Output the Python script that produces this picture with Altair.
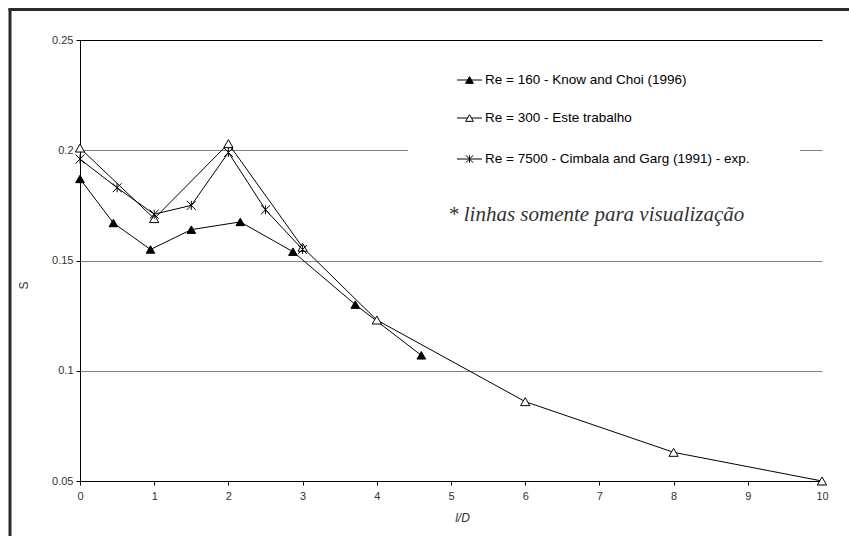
import altair as alt
import pandas as pd

# ---- data ----
x_re160 = [0, 0.45, 0.95, 1.5, 2.16, 2.87, 3.71, 4.6]
s_re160 = [0.187, 0.167, 0.155, 0.164, 0.1675, 0.154, 0.130, 0.107]

x_re300 = [0, 1, 2, 3, 4, 6, 8, 10]
s_re300 = [0.201, 0.169, 0.203, 0.156, 0.123, 0.086, 0.063, 0.050]

x_re7500 = [0, 0.5, 1, 1.5, 2, 2.5, 3]
s_re7500 = [0.196, 0.183, 0.171, 0.175, 0.199, 0.173, 0.155]

legend_labels = [
    "Re = 160 - Know and Choi (1996)",
    "Re = 300 - Este trabalho",
    "Re = 7500 - Cimbala and Garg (1991) - exp.",
]
note_text = "* linhas somente para visualização"
x_ticks = list(range(0, 11))
y_ticks = [0.05, 0.1, 0.15, 0.2, 0.25]

W, H = 742, 441
FONT = "Liberation Sans"
STAR = "M-1,-1L1,1M-1,1L1,-1M0,-1L0,1"

df160 = pd.DataFrame({"x": x_re160, "s": s_re160})
df300 = pd.DataFrame({"x": x_re300, "s": s_re300})
df7500 = pd.DataFrame({"x": x_re7500, "s": s_re7500})

xscale = alt.Scale(domain=[0, 10], nice=False, zero=False)
yscale = alt.Scale(domain=[0.05, 0.25], nice=False, zero=False)

xaxis = alt.Axis(
    values=x_ticks, format="d", grid=False, domainColor="black", tickColor="black",
    tickSize=4, labelFont=FONT, labelFontSize=11, labelColor="#333",
    labelPadding=5, labelFlush=False, labelOverlap=False,
    title="l/D", titleFont=FONT, titleFontSize=12,
    titleFontStyle="italic", titleFontWeight="normal", titleColor="#333",
    titleX=382, titleY=36, titleBaseline="middle",
)
yaxis = alt.Axis(
    values=y_ticks, format="~g", grid=True,
    gridColor={"condition": {"test": "datum.value >= 0.249", "value": "#000"}, "value": "#808080"},
    gridWidth=1, domainColor="black", tickColor="black", tickSize=4,
    labelFont=FONT, labelFontSize=11, labelColor="#333", labelPadding=3,
    labelFlush=False, labelOverlap=False,
    title="S", titleFont=FONT, titleFontSize=12, titleFontWeight="normal",
    titleColor="#333", titleX=-57, titleY=245, titleBaseline="middle",
)

one = alt.Data(values=[{}])

# outer frame (left + top edges)
frame_left = alt.Chart(one).mark_rule(color="#2b2b2b", strokeWidth=3).encode(
    x=alt.value(-70), y=alt.value(-31.5), y2=alt.value(496))
frame_top = alt.Chart(one).mark_rule(color="#2b2b2b", strokeWidth=3).encode(
    x=alt.value(-71.5), x2=alt.value(769), y=alt.value(-30.5))

# legend white box (interrupts gridline as in Excel)
legend_box = alt.Chart(one).mark_rect(color="white").encode(
    x=alt.value(328), x2=alt.value(720), y=alt.value(15), y2=alt.value(140))

def series(df, shape, fill, size):
    line = alt.Chart(df).mark_line(color="black", strokeWidth=1).encode(
        x=alt.X("x:Q", scale=xscale, axis=xaxis),
        y=alt.Y("s:Q", scale=yscale, axis=yaxis),
    )
    if fill is None:
        pts = alt.Chart(df).mark_point(shape=shape, filled=False, stroke="black",
                                       strokeWidth=1, size=size, opacity=1)
    else:
        pts = alt.Chart(df).mark_point(shape=shape, filled=True, fill=fill, stroke="black",
                                       strokeWidth=1, size=size, opacity=1)
    pts = pts.encode(x=alt.X("x:Q", scale=xscale), y=alt.Y("s:Q", scale=yscale))
    return line, pts

l160, p160 = series(df160, "triangle-up", "black", 75)
l300, p300 = series(df300, "triangle-up", "white", 85)
l7500, p7500 = series(df7500, STAR, None, 80)

# manual legend
leg_layers = []
leg_y = [40, 78, 119]
leg_shapes = [("triangle-up", "black", 60), ("triangle-up", "white", 60), (STAR, None, 55)]
for lab, yy, (shp, fill, sz) in zip(legend_labels, leg_y, leg_shapes):
    leg_layers.append(alt.Chart(one).mark_rule(color="black", strokeWidth=1).encode(
        x=alt.value(377), x2=alt.value(402), y=alt.value(yy)))
    if fill is None:
        m = alt.Chart(one).mark_point(shape=shp, filled=False, stroke="black",
                                      strokeWidth=1, size=sz, opacity=1)
    else:
        m = alt.Chart(one).mark_point(shape=shp, filled=True, fill=fill, stroke="black",
                                      strokeWidth=1, size=sz, opacity=1)
    leg_layers.append(m.encode(x=alt.value(389.5), y=alt.value(yy)))
    leg_layers.append(alt.Chart(one).mark_text(
        align="left", baseline="middle", font=FONT, fontSize=13.5, color="black"
    ).encode(x=alt.value(405), y=alt.value(yy), text=alt.value(lab)))

note = alt.Chart(one).mark_text(
    align="left", baseline="middle", font="Liberation Serif", fontSize=21,
    fontStyle="italic", color="#333"
).encode(x=alt.value(368), y=alt.value(175), text=alt.value(note_text))

chart = alt.layer(
    frame_left, frame_top, legend_box,
    l160, l300, l7500, p160, p300, p7500,
    *leg_layers, note,
).properties(
    width=W, height=H,
    padding={"left": 80, "top": 40, "right": 27, "bottom": 55},
    autosize=alt.AutoSizeParams(type="none"),
    background="white",
).configure_view(stroke=None)

chart.save("out.html", embed_options={"renderer": "svg", "actions": False})
